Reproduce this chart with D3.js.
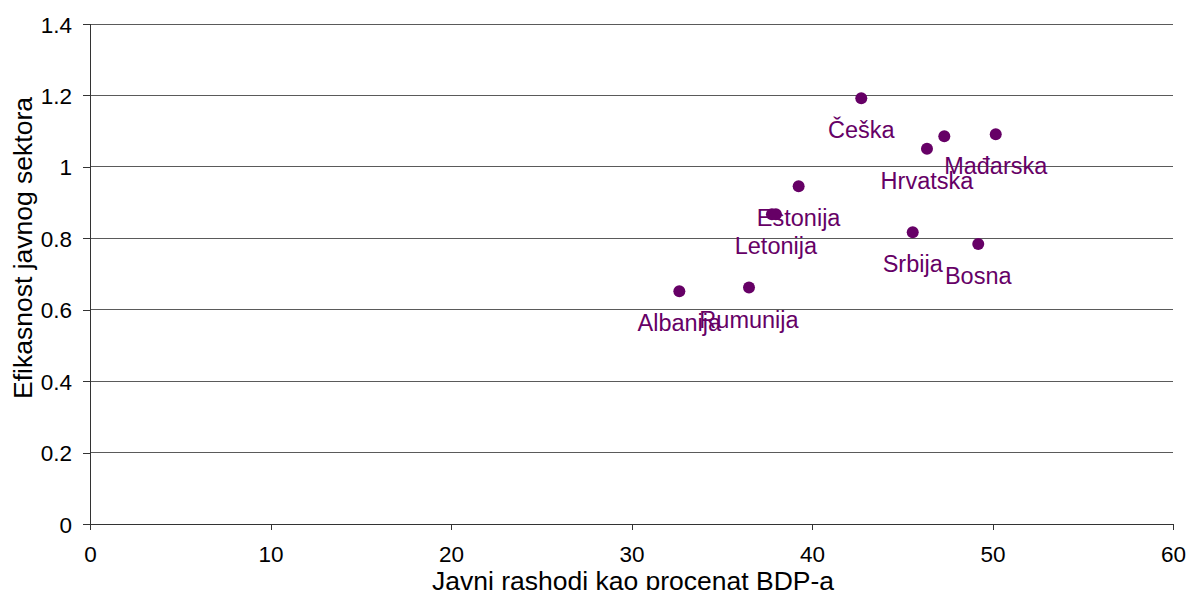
<!DOCTYPE html>
<html>
<head>
<meta charset="utf-8">
<script src="https://cdn.jsdelivr.net/npm/d3@7/dist/d3.min.js"></script>
<style>
    html, body { margin: 0; padding: 0; background: #fff; }
    svg { display: block; font-family: "Liberation Sans", Arial, sans-serif; }
    .grid line { stroke: #5a5a5a; stroke-width: 1; shape-rendering: crispEdges; }
</style>
</head>
<body>
<script>
'use strict';

// country labels ('' = point without label)
var countries = ['Češka', '', 'Mađarska', 'Hrvatska', 'Estonija', '', 'Letonija', 'Srbija', 'Bosna', 'Rumunija', 'Albanija'];
// public spending as % of GDP
var spending = [42.73, 47.33, 50.18, 46.37, 39.26, 37.78, 38.0, 45.58, 49.21, 36.51, 32.65];
// public sector efficiency
var efficiency = [1.192, 1.086, 1.091, 1.051, 0.946, 0.867, 0.867, 0.817, 0.784, 0.662, 0.652];

var xTicks = [0, 10, 20, 30, 40, 50, 60];
var yTicks = [0, 0.2, 0.4, 0.6, 0.8, 1, 1.2, 1.4];

var width = 1189;
var height = 590;
var margin = {top: 24, right: 16, bottom: 66, left: 90};
var plotW = width - margin.left - margin.right;
var plotH = height - margin.top - margin.bottom;
var purple = '#660066';

var points = countries.map(function (c, i) {
    return {name: c, x: spending[i], y: efficiency[i]};
});

var x = d3.scaleLinear().domain([0, 60]).range([0, plotW]);
var y = d3.scaleLinear().domain([0, 1.4]).range([plotH, 0]);

var svg = d3.select('body').append('svg')
    .attr('width', width)
    .attr('height', height);

var g = svg.append('g')
    .attr('transform', 'translate(' + margin.left + ',' + margin.top + ')');

// horizontal gridlines
g.append('g')
    .attr('class', 'grid')
    .selectAll('line')
    .data(yTicks.filter(function (d) { return d > 0; }))
    .enter().append('line')
    .attr('x1', 0)
    .attr('x2', plotW)
    .attr('y1', function (d) { return y(d); })
    .attr('y2', function (d) { return y(d); });

var xAxis = g.append('g')
    .attr('transform', 'translate(0,' + plotH + ')')
    .call(d3.axisBottom(x).tickValues(xTicks).tickSize(6).tickPadding(16)
        .tickFormat(d3.format('d')));

var yAxis = g.append('g')
    .call(d3.axisLeft(y).tickValues(yTicks).tickSize(7).tickPadding(11)
        .tickFormat(function (d) { return d3.format('~g')(d); }));

[xAxis, yAxis].forEach(function (a) {
    a.select('.domain').attr('stroke', '#333').attr('shape-rendering', 'crispEdges');
    a.selectAll('.tick line').attr('stroke', '#333').attr('shape-rendering', 'crispEdges');
    a.selectAll('.tick text')
        .attr('fill', '#000')
        .style('font-family', '"Liberation Sans", Arial, sans-serif')
        .style('font-size', '22.5px');
});
yAxis.selectAll('.tick text').attr('dy', '0.36em');
xAxis.selectAll('.tick text').attr('dy', '0.71em');

// points
g.append('g')
    .selectAll('circle')
    .data(points)
    .enter().append('circle')
    .attr('cx', function (d) { return x(d.x); })
    .attr('cy', function (d) { return y(d.y); })
    .attr('r', 6)
    .attr('fill', purple);

// data labels, placed below points
g.append('g')
    .selectAll('text')
    .data(points.filter(function (d) { return d.name; }))
    .enter().append('text')
    .attr('x', function (d) { return x(d.x); })
    .attr('y', function (d) { return y(d.y) + 40; })
    .attr('text-anchor', 'middle')
    .attr('fill', purple)
    .style('font-size', '23.5px')
    .text(function (d) { return d.name; });

// axis titles
svg.append('text')
    .attr('x', 633)
    .attr('y', 590)
    .attr('text-anchor', 'middle')
    .style('font-size', '26.5px')
    .text('Javni rashodi kao procenat BDP-a');

svg.append('text')
    .attr('transform', 'translate(32,248) rotate(-90)')
    .attr('text-anchor', 'middle')
    .style('font-size', '26.5px')
    .text('Efikasnost javnog sektora');
</script>
</body>
</html>
